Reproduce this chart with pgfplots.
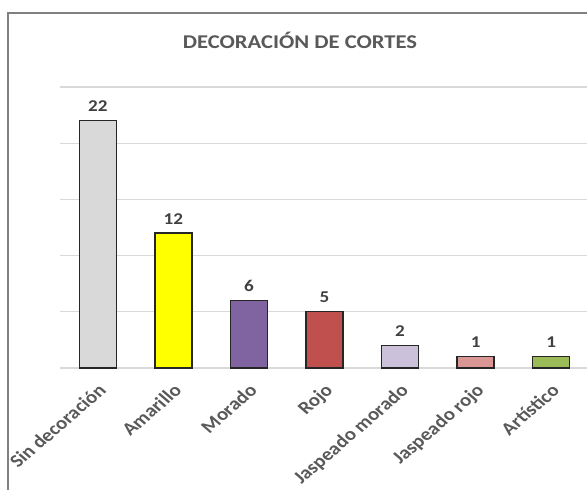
\documentclass[border=0pt]{standalone}
\usepackage{pgfplots}
\pgfplotsset{compat=1.18}
\usepackage{fontspec}
\setmainfont{Carlito}
\definecolor{cgray}{HTML}{D9D9D9}
\definecolor{cyellow}{HTML}{FFFF00}
\definecolor{cpurple}{HTML}{8064A2}
\definecolor{cred}{HTML}{C0504D}
\definecolor{clav}{HTML}{CCC1DA}
\definecolor{cpink}{HTML}{DA9694}
\definecolor{cgreen}{HTML}{9BBB59}
\definecolor{gridc}{HTML}{D9D9D9}
\definecolor{titlec}{HTML}{595959}
\definecolor{labc}{HTML}{404040}
\begin{document}
\begin{tikzpicture}
\begin{axis}[
  at={(60bp,122bp)}, anchor=south west,
  scale only axis, width=529bp, height=281bp,
  ybar, bar width=37bp, bar shift=0pt,
  xmin=-0.5, xmax=6.5, ymin=0, ymax=25,
  ytick={0,5,10,15,20,25}, yticklabels={},
  ymajorgrids, major grid style={gridc, line width=1.2bp},
  axis line style={draw=none},
  major tick style={draw=none},
  xtick={0,1,2,3,4,5,6},
  xticklabels={Sin decoración, Amarillo, Morado, Rojo, Jaspeado morado, Jaspeado rojo, Artístico},
  xticklabel style={xshift=-1bp, yshift=-9bp, xscale=1.16, rotate=45, anchor=north east, font=\fontsize{18bp}{20bp}\selectfont\bfseries, text=titlec, inner sep=1bp},
  /pgf/number format/assume math mode=true,
  nodes near coords,
  nodes near coords style={xscale=1.16, font=\fontsize{16.5bp}{18bp}\selectfont\bfseries, text=labc, yshift=5bp},
  every axis plot/.append style={draw=black!85, line width=1.3bp},
  clip=false,
]
\addplot[fill=cgray] coordinates {(0,22)};
\addplot[fill=cyellow] coordinates {(1,12)};
\addplot[fill=cpurple] coordinates {(2,6)};
\addplot[fill=cred] coordinates {(3,5)};
\addplot[fill=clav] coordinates {(4,2)};
\addplot[fill=cpink] coordinates {(5,1)};
\addplot[fill=cgreen] coordinates {(6,1)};
\end{axis}
\node[xscale=1.16, font=\fontsize{19.5bp}{22bp}\selectfont\bfseries, text=titlec] at (300bp,450bp) {DECORACIÓN DE CORTES};
\draw[color=black!50, line width=1.5bp] (8bp,-20bp) -- (8bp,477bp) -- (620bp,477bp);
\pgfresetboundingbox
\useasboundingbox (0,0) rectangle (587bp,490bp);
\end{tikzpicture}
\end{document}
